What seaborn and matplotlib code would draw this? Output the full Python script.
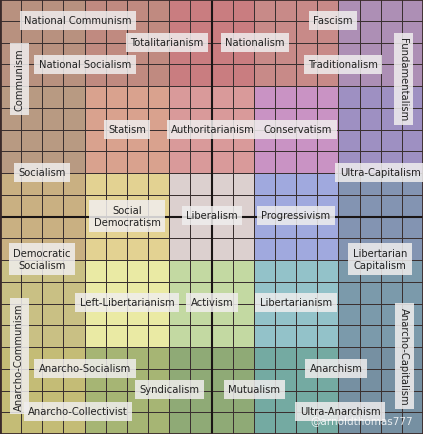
import numpy as np
import matplotlib
matplotlib.use("Agg")
import matplotlib.pyplot as plt
import seaborn as sns
from matplotlib.colors import ListedColormap

block_colors = [
    ["#b8917f", "#c08a80", "#c97d80", "#c88a88", "#ad8fb5"],
    ["#b89a82", "#d9a28e", "#d99a9a", "#c993c4", "#9e90c2"],
    ["#c9b082", "#e3d292", "#dcd0cf", "#a0a9de", "#8394b2"],
    ["#c9c084", "#eaeaa4", "#c3d9a2", "#93c2c9", "#7b9aab"],
    ["#c4bc76", "#a6b574", "#8faa76", "#74aaa2", "#7690a2"],
]
labels = ["National Communism", "Totalitarianism", "Nationalism", "Fascism", "National Socialism",
          "Communism", "Traditionalism", "Fundamentalism", "Statism", "Authoritarianism",
          "Conservatism", "Socialism", "Ultra-Capitalism", "Social\nDemocratism", "Liberalism",
          "Progressivism", "Democratic\nSocialism", "Libertarian\nCapitalism", "Left-Libertarianism",
          "Activism", "Libertarianism", "Anarcho-Communism", "Anarcho-Capitalism",
          "Anarcho-Socialism", "Anarchism", "Syndicalism", "Mutualism", "Anarcho-Collectivist",
          "Ultra-Anarchism"]
label_px = [(78,21),(167,43),(255,43),(333,21),(85,65),(19,80),(343,65),(403,80),(127,130),
            (213,130),(298,130),(42,173),(380,173),(127,217),(212,216),(296,216),(42,260),
            (380,260),(127,303),(212,303),(296,303),(19,357),(404,357),(85,369),(336,369),
            (169,390),(254,390),(78,412),(340,412)]
label_rot = {"Communism":90, "Fundamentalism":-90, "Anarcho-Communism":90, "Anarcho-Capitalism":-90}

flat = [c for row in block_colors for c in row]
idx = np.zeros((20, 20), dtype=int)
for r in range(20):
    for c in range(20):
        idx[r, c] = (r // 4) * 5 + (c // 4)

fig = plt.figure(figsize=(4.23, 4.35), dpi=100)
ax = fig.add_axes([0, 0, 1, 1])
sns.heatmap(idx, cmap=ListedColormap(flat), vmin=-0.5, vmax=24.5, cbar=False,
            linewidths=0.6, linecolor="#3a3030", ax=ax, xticklabels=False, yticklabels=False)
ax.axvline(10, color="#1a1515", lw=1.5)
ax.axhline(10, color="#1a1515", lw=1.5)
for s in ax.spines.values():
    s.set_visible(True); s.set_color("#3a2a2a"); s.set_linewidth(2)

W, H = 423, 435
for lab, (px, py) in zip(labels, label_px):
    ax.text(px / W * 20, py / H * 20, lab, ha="center", va="center", fontsize=7.2,
            rotation=label_rot.get(lab, 0), color="#222222", linespacing=1.3,
            fontfamily="Liberation Sans Narrow" if False else "DejaVu Sans",
            bbox=dict(boxstyle="square,pad=0.45", fc="#f0eeee", ec="none", alpha=0.85))
ax.text(362 / W * 20, 421 / H * 20, "@arnoldthomas777", ha="center", va="center",
        fontsize=7.5, color="white", alpha=0.85)
fig.savefig("out.png", dpi=100)
